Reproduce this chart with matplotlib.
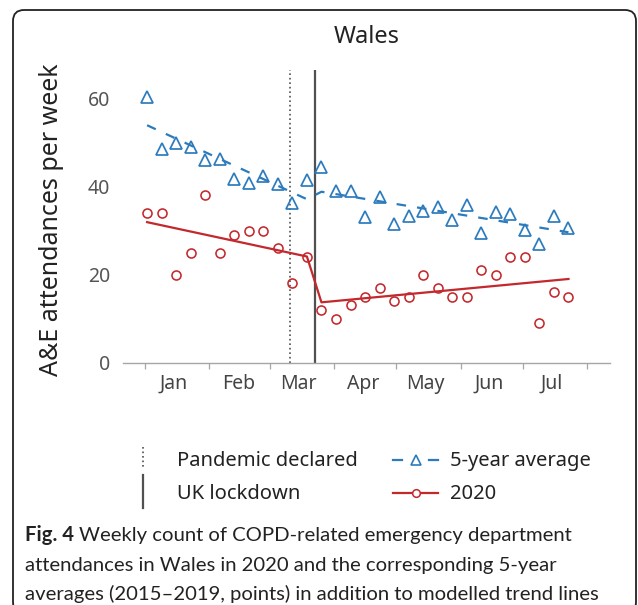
import pandas as pd
import matplotlib
matplotlib.use("Agg")
import matplotlib.pyplot as plt
import matplotlib.dates as mdates
from matplotlib.lines import Line2D
from matplotlib.patches import FancyBboxPatch
from matplotlib.transforms import IdentityTransform

# ---- data -------------------------------------------------------------
week_dates = pd.date_range("2020-01-02", periods=30, freq="7D")

avg_5yr = [60.4, 48.4, 49.9, 49.0, 46.0, 46.3, 41.8, 40.8, 42.4, 40.5,
           36.2, 41.5, 44.5, 39.0, 39.0, 33.0, 37.7, 31.5, 33.3, 34.5,
           35.3, 32.5, 35.8, 29.5, 34.2, 33.7, 30.1, 26.9, 33.3, 30.6]

counts_2020 = [34, 34, 20, 25, 38, 25, 29, 30, 30, 26,
               18, 24, 12, 10, 13, 15, 17, 14, 15, 20,
               17, 15, 15, 21, 20, 24, 24, 9, 16, 15]

# modelled piecewise trends: end points of the pre- and post-lockdown segments
trend_idx = [0, 11, 12, 29]
trend_avg = [53.9, 37.1, 38.8, 29.6]
trend_2020 = [31.9, 24.1, 13.7, 19.0]

pandemic_date = "2020-03-11"
lockdown_date = "2020-03-23"

month_starts = ["2020-01-01", "2020-02-01", "2020-03-01", "2020-04-01",
                "2020-05-01", "2020-06-01", "2020-07-01", "2020-08-01"]
month_mids = ["2020-01-15", "2020-02-15", "2020-03-15", "2020-04-15",
              "2020-05-15", "2020-06-15", "2020-07-15"]
month_labels = ["Jan", "Feb", "Mar", "Apr", "May", "Jun", "Jul"]
y_ticks = [0, 20, 40, 60]

caption_lines = [
    "Weekly count of COPD-related emergency department",
    "attendances in Wales in 2020 and the corresponding 5-year",
    "averages (2015\u20132019, points) in addition to modelled trend lines",
]

# ---- style ------------------------------------------------------------
BLUE = "#2b7bbd"
RED = "#c3282d"
VLINE = "#505050"
FONT = "Noto Sans"
CAP_FONT = "Lato"

W, H = 638, 605
fig = plt.figure(figsize=(W / 100, H / 100), dpi=100)
ident = IdentityTransform()


def px(x, y):
    return x, H - y


ax_left, ax_right, ax_top, ax_bot = 123, 610, 69.7, 362.7
ax = fig.add_axes([ax_left / W, (H - ax_bot) / H,
                   (ax_right - ax_left) / W, (ax_bot - ax_top) / H])

dates = [week_dates[i] for i in range(len(week_dates))]
trend_dates = [week_dates[i] for i in trend_idx]

ax.plot(trend_dates, trend_avg, color=BLUE, lw=1.6,
        dashes=(4.3, 5.0), zorder=3)
ax.plot(trend_dates, trend_2020, color=RED, lw=1.6, zorder=3)
ax.plot(dates, avg_5yr, ls="none", marker="^", ms=8.3, mfc="none",
        mec=BLUE, mew=1.25, zorder=4)
ax.plot(dates, counts_2020, ls="none", marker="o", ms=6.5, mfc="none",
        mec=RED, mew=1.15, zorder=4)

ax.axvline(pd.Timestamp(pandemic_date), color=VLINE, lw=1.2,
           ls=(0, (1, 1.7)), zorder=2)
ax.axvline(pd.Timestamp(lockdown_date), color=VLINE, lw=1.6, zorder=2)

x0 = mdates.date2num(pd.Timestamp("2020-01-01"))
ax.set_xlim(x0 - 10.6, x0 + 224.0)
ax.set_ylim(0, 66.5)

for s in ["left", "right", "top"]:
    ax.spines[s].set_visible(False)
ax.spines["bottom"].set_color("#a6a6a6")
ax.spines["bottom"].set_linewidth(1.0)

ax.set_xticks([pd.Timestamp(d) for d in month_starts])
ax.set_xticklabels([])
ax.tick_params(axis="x", which="major", length=4, width=0.9,
               color="#a6a6a6")
ax.set_xticks([pd.Timestamp(d) for d in month_mids], minor=True)
ax.set_xticklabels(month_labels, minor=True)
ax.tick_params(axis="x", which="minor", length=0, pad=8,
               labelsize=14, labelcolor="#444444")
for lab in ax.get_xticklabels(minor=True):
    lab.set_family(FONT)

ax.set_yticks(y_ticks)
ax.set_yticklabels([str(v) for v in y_ticks])
ax.tick_params(axis="y", length=0, pad=9, labelsize=14,
               labelcolor="#555555")
for lab in ax.get_yticklabels():
    lab.set_family(FONT)
ax.patch.set_visible(False)

# title and axis label
fig.text(*px(366.5, 43.3), "Wales", transform=ident, ha="center",
         va="baseline", fontsize=17, family=FONT, color="#222222")
fig.text(*px(52, 220), "A&E attendances per week", transform=ident,
         rotation=90, ha="center", va="center", fontsize=18,
         family=FONT, color="#222222")

# ---- legend -----------------------------------------------------------
fig.add_artist(Line2D([143, 143], [H - 447, H - 468], transform=ident,
                      color=VLINE, lw=1.2, ls=(0, (1, 1.7))))
fig.add_artist(Line2D([143, 143], [H - 475, H - 508], transform=ident,
                      color=VLINE, lw=1.6))
fig.text(*px(177, 466), "Pandemic declared", transform=ident,
         va="baseline", fontsize=14.5, family=FONT, color="#222222")
fig.text(*px(177, 499.3), "UK lockdown", transform=ident,
         va="baseline", fontsize=14.5, family=FONT, color="#222222")

row1, row2 = H - 460, H - 492.7
fig.add_artist(Line2D([393, 402], [row1, row1], transform=ident,
                      color=BLUE, lw=1.6))
fig.add_artist(Line2D([429, 438], [row1, row1], transform=ident,
                      color=BLUE, lw=1.6))
fig.add_artist(Line2D([415.5], [row1], transform=ident, ls="none",
                      marker="^", ms=7, mfc="none", mec=BLUE, mew=1.2))
fig.add_artist(Line2D([393, 438], [row2, row2], transform=ident,
                      color=RED, lw=1.6))
fig.add_artist(Line2D([415.5], [row2], transform=ident, ls="none",
                      marker="o", ms=5.5, mfc="white", mec=RED, mew=1.1))
fig.text(*px(450, 466), "5-year average", transform=ident,
         va="baseline", fontsize=14.5, family=FONT, color="#222222")
fig.text(*px(450, 499.3), "2020", transform=ident,
         va="baseline", fontsize=14.5, family=FONT, color="#222222")

# ---- caption box ------------------------------------------------------
box = FancyBboxPatch((13, -8), 636 - 13, H - 10 + 8,
                     boxstyle="round,pad=0,rounding_size=11",
                     transform=ident, fill=False, ec="#222222", lw=1.3)
fig.add_artist(box)

renderer = fig.canvas.get_renderer()
cap_size = 14.6
bold = fig.text(*px(25, 541), "Fig. 4", transform=ident, va="baseline",
                fontsize=cap_size, family=CAP_FONT, weight="bold",
                color="#222222")
bb = bold.get_window_extent(renderer=renderer)
fig.text(bb.x1 + 5, H - 541, caption_lines[0], transform=ident,
         va="baseline", fontsize=cap_size, family=CAP_FONT,
         color="#222222")
fig.text(*px(25, 571), caption_lines[1], transform=ident, va="baseline",
         fontsize=cap_size, family=CAP_FONT, color="#222222")
fig.text(*px(25, 600), caption_lines[2], transform=ident, va="baseline",
         fontsize=cap_size, family=CAP_FONT, color="#222222")

fig.savefig("out.png", dpi=100, facecolor="white")
